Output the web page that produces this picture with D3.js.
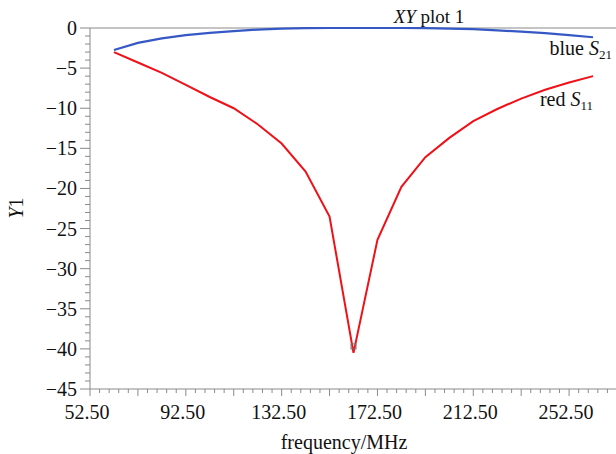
<!DOCTYPE html>
<html>
<head>
<meta charset="utf-8">
<script src="https://cdn.jsdelivr.net/npm/d3@7"></script>
<style>
  body { margin: 0; background: #fff; }
  svg text { font-family: "Liberation Serif", "DejaVu Serif", serif; fill: #111; }
</style>
</head>
<body>
<svg id="chart" width="616" height="454"></svg>
<script>
// frequency points (MHz)
const freq = [62.5, 72.5, 82.5, 92.5, 102.5, 112.5, 122.5, 132.5, 142.5, 152.5, 162.5,
              172.5, 182.5, 192.5, 202.5, 212.5, 222.5, 232.5, 242.5, 252.5, 262.5];
// S21 (blue) in dB
const s21 = [-2.75, -1.85, -1.3, -0.88, -0.6, -0.38, -0.2, -0.08, -0.02, 0, 0,
             0, 0, -0.02, -0.08, -0.15, -0.3, -0.45, -0.65, -0.88, -1.15];
// S11 (red) in dB
const s11 = [-3.0, -4.3, -5.6, -7.1, -8.6, -10.0, -12.0, -14.4, -17.9, -23.5, -40.5,
             -26.4, -19.8, -16.1, -13.7, -11.6, -10.1, -8.8, -7.7, -6.8, -6.0];
const xTickLabels = [52.5, 92.5, 132.5, 172.5, 212.5, 252.5];
const yTickLabels = [0, -5, -10, -15, -20, -25, -30, -35, -40, -45];

var svg = d3.select("#chart");
var mLeft = 90, mRight = 617, mTop = 28, mBottom = 389;

var x = d3.scaleLinear().domain([52.5, 272.5]).range([mLeft, mRight]);
var y = d3.scaleLinear().domain([-45, 0]).range([mBottom, mTop]);

var axisColor = "#8a8a8a";

// minor / major ticks on y
var yMinor = d3.range(-45, 1, 1);
var yAxis = svg.append("g").attr("transform", "translate(" + mLeft + ",0)");
yAxis.selectAll("line.tick")
     .data(yMinor)
     .enter()
     .append("line")
     .attr("class", "tick")
     .attr("x1", function(d) { return d % 5 === 0 ? -10 : -5; })
     .attr("x2", 0)
     .attr("y1", function(d) { return y(d); })
     .attr("y2", function(d) { return y(d); })
     .attr("stroke", axisColor)
     .attr("stroke-width", 1);
yAxis.append("line")
     .attr("x1", 0).attr("x2", 0)
     .attr("y1", mTop).attr("y2", mBottom)
     .attr("stroke", axisColor);
yAxis.selectAll("text")
     .data(yTickLabels)
     .enter()
     .append("text")
     .attr("x", -13)
     .attr("y", function(d) { return y(d); })
     .attr("dy", "0.35em")
     .attr("text-anchor", "end")
     .attr("font-size", 20)
     .text(function(d) { return d === 0 ? "0" : "\u2212" + Math.abs(d); });

// x axis ticks
var xMinor = d3.range(52.5, 272.6, 4);
var xAxis = svg.append("g").attr("transform", "translate(0," + mBottom + ")");
xAxis.selectAll("line")
     .data(xMinor)
     .enter()
     .append("line")
     .attr("x1", function(d) { return x(d); })
     .attr("x2", function(d) { return x(d); })
     .attr("y1", 0)
     .attr("y2", function(d) { return (d - 52.5) % 20 === 0 ? 7 : 4; })
     .attr("stroke", axisColor);
xAxis.append("line")
     .attr("x1", mLeft).attr("x2", 616)
     .attr("y1", 0).attr("y2", 0)
     .attr("stroke", axisColor);
xAxis.selectAll("text")
     .data(xTickLabels)
     .enter()
     .append("text")
     .attr("x", function(d) { return x(d) - 3; })
     .attr("y", 30)
     .attr("text-anchor", "middle")
     .attr("font-size", 20)
     .text(function(d) { return d3.format(".2f")(d); });

// top frame line
svg.append("line")
   .attr("x1", mLeft).attr("x2", 616)
   .attr("y1", mTop).attr("y2", mTop)
   .attr("stroke", axisColor);

// title
var title = svg.append("text")
   .attr("x", 429).attr("y", 23)
   .attr("text-anchor", "middle")
   .attr("font-size", 19);
title.append("tspan").attr("font-style", "italic").text("XY");
title.append("tspan").text(" plot 1");

// axis titles
svg.append("text")
   .attr("x", 344).attr("y", 449)
   .attr("text-anchor", "middle")
   .attr("font-size", 20)
   .text("frequency/MHz");

var yl = svg.append("text")
   .attr("transform", "translate(23,208) rotate(-90)")
   .attr("text-anchor", "middle")
   .attr("font-size", 20);
yl.append("tspan").attr("font-style", "italic").text("Y");
yl.append("tspan").text("1");

// lines
var line = function(vals) {
  return d3.line()
    .x(function(d, i) { return x(freq[i]); })
    .y(function(d) { return y(d); })(vals);
};

svg.append("path")
   .attr("d", line(s11))
   .attr("fill", "none")
   .attr("stroke", "#f01018")
   .attr("stroke-width", 2);

svg.append("path")
   .attr("d", line(s21))
   .attr("fill", "none")
   .attr("stroke", "#3658c4")
   .attr("stroke-width", 2.2);

// marker at the minimum
var iMin = d3.minIndex(s11);
svg.append("rect")
   .attr("x", x(freq[iMin]) - 2.5)
   .attr("y", y(s11[iMin]) - 9)
   .attr("width", 5).attr("height", 5)
   .attr("fill", "none")
   .attr("stroke", "#777")
   .attr("stroke-width", 1);

// series labels
function seriesLabel(px, py, name, sub) {
  var t = svg.append("text").attr("x", px).attr("y", py)
             .attr("text-anchor", "end").attr("font-size", 20);
  t.append("tspan").text(name + " ");
  t.append("tspan").attr("font-style", "italic").text("S");
  t.append("tspan").attr("font-size", 13).attr("dy", 4).text(sub);
}
seriesLabel(612, 55, "blue", "21");
seriesLabel(593, 106, "red", "11");
</script>
</body>
</html>
